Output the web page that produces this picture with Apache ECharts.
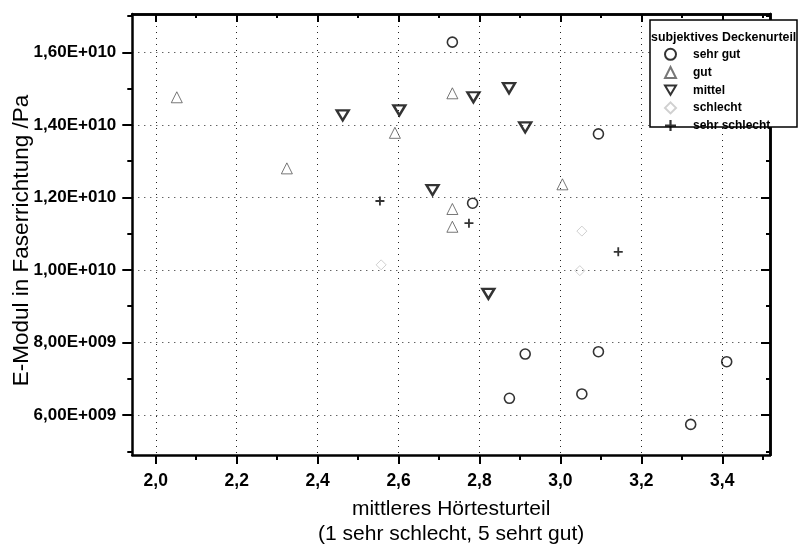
<!DOCTYPE html>
<html>
<head>
<meta charset="utf-8">
<script src="https://cdn.jsdelivr.net/npm/echarts@6/dist/echarts.min.js"></script>
<style>
html, body { margin: 0; padding: 0; background: #fff; }
#main { width: 800px; height: 558px; }
</style>
</head>
<body>
<div id="main"></div>
<script>
var main = echarts.init(document.getElementById('main'));

// Messwerte: [mittleres Hörtesturteil, E-Modul in Pa]
var sehrGut = [[2.733, 16.28e9], [3.094, 13.75e9], [2.783, 11.84e9], [2.913, 7.68e9], [3.094, 7.745e9],
	[3.411, 7.47e9], [2.874, 6.46e9], [3.053, 6.58e9], [3.322, 5.74e9]];
var gut = [[2.052, 14.76e9], [2.324, 12.80e9], [2.591, 13.78e9], [2.733, 14.87e9], [3.005, 12.36e9],
	[2.733, 11.68e9], [2.733, 11.19e9]];
var mittel = [[2.462, 14.26e9], [2.602, 14.40e9], [2.785, 14.76e9], [2.873, 15.01e9], [2.913, 13.93e9],
	[2.684, 12.20e9], [2.822, 9.34e9]];
var schlecht = [[2.557, 10.14e9], [3.053, 11.07e9], [3.048, 9.98e9]];
var sehrSchlecht = [[2.554, 11.90e9], [2.774, 11.29e9], [3.143, 10.50e9]];

var names = ['sehr gut', 'gut', 'mittel', 'schlecht', 'sehr schlecht'];

// Achsen
var xMin = 1.942, xMax = 3.518;
var yMin = 4.897e9, yMax = 1.7056e10;
var xTicks = [2.0, 2.2, 2.4, 2.6, 2.8, 3.0, 3.2, 3.4];
var xMinor = [2.1, 2.3, 2.5, 2.7, 2.9, 3.1, 3.3, 3.5];
var yTicks = [6e9, 8e9, 1e10, 1.2e10, 1.4e10, 1.6e10];
var yMinor = [5e9, 7e9, 9e9, 1.1e10, 1.3e10, 1.5e10, 1.7e10];

var font = "'Liberation Sans', Arial, sans-serif";
var downTriangle = 'path://M0,0L12,0L6,10Z';
var plus = 'path://M4,0h2v4h4v2h-4v4h-2v-4h-4v-2h4z';

function fmtX(v) {
	return v.toFixed(1).replace('.', ',');
}
function fmtY(v) {
	var e = Math.floor(Math.log10(v) + 1e-9);
	var m = v / Math.pow(10, e);
	return m.toFixed(2).replace('.', ',') + 'E+0' + (e < 10 ? '0' : '') + e;
}

function xAx(position, ticks, len, inside, main) {
	return {
		type: 'value', position: position, min: xMin, max: xMax,
		axisLine: { show: main || position == 'top', lineStyle: { color: '#000', width: 2.5 } },
		axisTick: { show: true, customValues: ticks, length: len, inside: inside, lineStyle: { color: '#000', width: 2 } },
		axisLabel: main ? { customValues: ticks, formatter: fmtX, color: '#000', fontFamily: font, fontSize: 17.5, fontWeight: 'bold', margin: 17 } : { show: false },
		splitLine: main ? { show: true, lineStyle: { color: '#222', width: 1, type: [1, 5] } } : { show: false },
		name: main ? 'mittleres Hörtesturteil\n(1 sehr schlecht, 5 sehrt gut)' : '',
		nameLocation: 'middle', nameGap: 42, nameMoveOverlap: false,
		nameTextStyle: { color: '#000', fontFamily: font, fontSize: 21, lineHeight: 25 }
	};
}
function yAx(position, ticks, len, inside, main) {
	return {
		type: 'value', position: position, min: yMin, max: yMax,
		axisLine: { show: main || position == 'right', lineStyle: { color: '#000', width: 2.5 } },
		axisTick: { show: true, customValues: ticks, length: len, inside: inside, lineStyle: { color: '#000', width: 2 } },
		axisLabel: main ? { customValues: ticks, formatter: fmtY, color: '#000', fontFamily: font, fontSize: 17, fontWeight: 'bold', margin: 16 } : { show: false },
		splitLine: main ? { show: true, lineStyle: { color: '#222', width: 1, type: [1, 5] } } : { show: false },
		name: main ? 'E-Modul in Faserrichtung /Pa' : '',
		nameLocation: 'middle', nameGap: 99, nameMoveOverlap: false,
		nameTextStyle: { color: '#000', fontFamily: font, fontSize: 22.5, padding: [0, 12, 0, 0] }
	};
}

var option = {
	animation: false,
	grid: { left: 132.3, right: 30, top: 14, bottom: 103, containLabel: false, outerBoundsMode: 'none' },
	xAxis: [
		xAx('bottom', xTicks, 9, false, true),
		xAx('bottom', xMinor, 5, false, false),
		xAx('top', xTicks, 8, true, false),
		xAx('top', xMinor, 4, true, false)
	],
	yAxis: [
		yAx('left', yTicks, 10, false, true),
		yAx('left', yMinor, 5, false, false),
		yAx('right', yTicks, 9, true, false),
		yAx('right', yMinor, 4, true, false)
	],
	legend: {
		orient: 'vertical', left: 664, top: 47.8, padding: 0,
		itemWidth: 11, itemHeight: 11, itemGap: 5.2,
		data: [names[0], names[1], { name: names[2], icon: downTriangle }, names[3], names[4]],
		textStyle: { color: '#000', fontFamily: font, fontSize: 12, fontWeight: 'bold', lineHeight: 11, padding: [0, 0, 0, 12] }
	},
	graphic: [
		{ type: 'rect', z: 3, shape: { x: 650, y: 20, width: 147, height: 107 },
			style: { fill: '#fff', stroke: '#000', lineWidth: 1.5 } },
		{ type: 'text', z: 5, x: 651, y: 38,
			style: { text: 'subjektives Deckenurteil', fill: '#000', font: 'bold 12.4px ' + font, textVerticalAlign: 'middle' } }
	],
	series: [
		{ name: 'sehr gut', type: 'scatter', data: sehrGut, symbol: 'circle', symbolSize: 10,
			itemStyle: { color: 'rgba(0,0,0,0)', borderColor: '#000', borderWidth: 1.6 } },
		{ name: 'gut', type: 'scatter', data: gut, symbol: 'triangle', symbolSize: 11,
			itemStyle: { color: 'rgba(0,0,0,0)', borderColor: '#555', borderWidth: 1 } },
		{ name: 'mittel', type: 'scatter', data: mittel, symbol: downTriangle, symbolSize: [12, 10],
			itemStyle: { color: 'rgba(0,0,0,0)', borderColor: '#000', borderWidth: 2.4 } },
		{ name: 'schlecht', type: 'scatter', data: schlecht, symbol: 'diamond', symbolSize: 10,
			itemStyle: { color: 'rgba(0,0,0,0)', borderColor: '#c4c4c4', borderWidth: 1 } },
		{ name: 'sehr schlecht', type: 'scatter', data: sehrSchlecht, symbol: plus, symbolSize: 9,
			itemStyle: { color: '#000' } }
	]
};
main.setOption(option);
</script>
</body>
</html>
